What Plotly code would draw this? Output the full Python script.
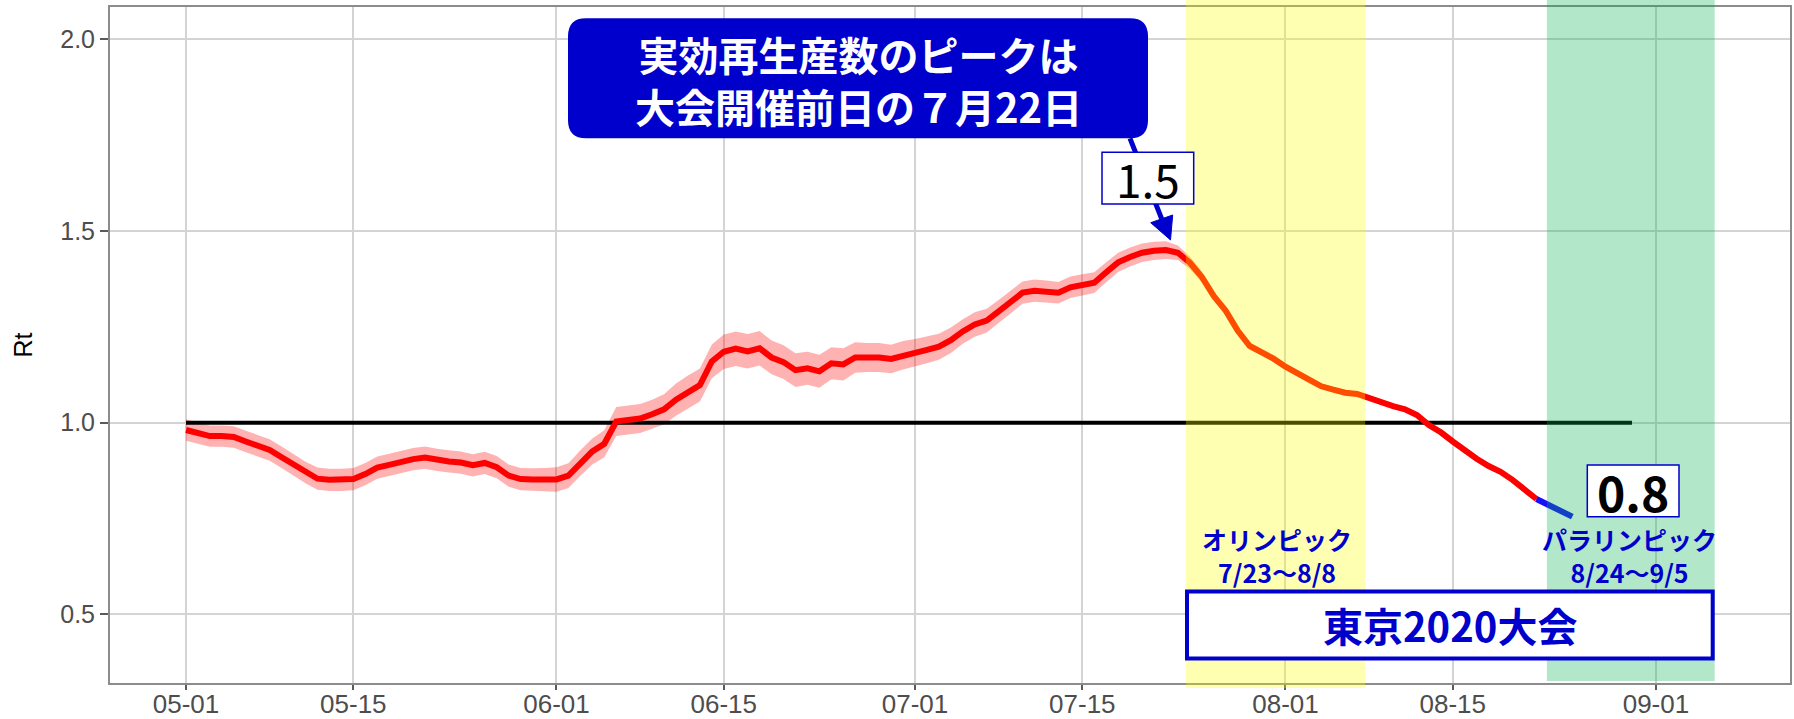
import pandas as pd
import plotly.graph_objects as go

# ---------------- data ----------------
dates = pd.date_range("2021-05-01", "2021-08-25", freq="D")

rt = [0.981, 0.972, 0.965, 0.965, 0.963, 0.951, 0.940, 0.929, 0.910, 0.890,
      0.870, 0.854, 0.851, 0.851, 0.853, 0.866, 0.883, 0.890, 0.898, 0.905,
      0.909, 0.903, 0.899, 0.896, 0.889, 0.895, 0.884, 0.862, 0.853, 0.852,
      0.852, 0.852, 0.862, 0.895, 0.925, 0.945, 1.003, 1.007, 1.011, 1.022,
      1.035, 1.060, 1.080, 1.098, 1.160, 1.185, 1.193, 1.186, 1.194, 1.170,
      1.158, 1.137, 1.142, 1.134, 1.155, 1.152, 1.170, 1.170, 1.170, 1.166,
      1.176, 1.182, 1.190, 1.198, 1.215, 1.238, 1.256, 1.266, 1.290, 1.315,
      1.339, 1.344, 1.342, 1.339, 1.353, 1.359, 1.365, 1.392, 1.418, 1.432,
      1.443, 1.448, 1.450, 1.443, 1.417, 1.380, 1.330, 1.292, 1.240, 1.200,
      1.185, 1.167, 1.146, 1.128, 1.110, 1.095, 1.086, 1.078, 1.075, 1.063,
      1.052, 1.043, 1.035, 1.020, 0.994, 0.975, 0.951, 0.928, 0.906, 0.887,
      0.872, 0.851, 0.824, 0.801, 0.787, 0.770, 0.755]

ci_half = [0.028, 0.028, 0.028, 0.028, 0.028, 0.028, 0.028, 0.028, 0.028, 0.028,
           0.028, 0.029, 0.029, 0.029, 0.029, 0.029, 0.029, 0.029, 0.029, 0.029,
           0.029, 0.029, 0.029, 0.029, 0.029, 0.029, 0.029, 0.029, 0.029, 0.029,
           0.030, 0.032, 0.032, 0.033, 0.034, 0.035, 0.038, 0.038, 0.038, 0.038,
           0.039, 0.042, 0.043, 0.043, 0.044, 0.045, 0.045, 0.045, 0.045, 0.044,
           0.044, 0.044, 0.043, 0.043, 0.042, 0.042, 0.040, 0.038, 0.038, 0.037,
           0.037, 0.036, 0.035, 0.034, 0.033, 0.032, 0.032, 0.031, 0.030, 0.030,
           0.029, 0.029, 0.029, 0.028, 0.028, 0.028, 0.027, 0.026, 0.025, 0.025,
           0.024, 0.024, 0.023, 0.019, 0.016, 0.014, 0.013, 0.011, 0.010, 0.010,
           0.009, 0.009, 0.008, 0.008, 0.008, 0.007, 0.007, 0.007, 0.006, 0.006,
           0.005, 0.005, 0.005, 0.005, 0.004, 0.004, 0.004, 0.004, 0.004, 0.004,
           0.004, 0.004, 0.004, 0.004, 0.004, 0.004, 0.004]

red_end = 114          # red segment: first 114 days (to 08-22), blue afterwards
threshold = 1.0
threshold_span = ["2021-05-01", "2021-08-30"]

olympics = ("2021-07-23 16:00", "2021-08-07 16:00")
paralympics = ("2021-08-22 21:00", "2021-09-05 22:00")

x_tickvals = ["2021-05-01", "2021-05-15", "2021-06-01", "2021-06-15", "2021-07-01",
              "2021-07-15", "2021-08-01", "2021-08-15", "2021-09-01"]
x_ticktext = ["05-01", "05-15", "06-01", "06-15", "07-01", "07-15", "08-01", "08-15", "09-01"]
y_tickvals = [0.5, 1.0, 1.5, 2.0]
y_ticktext = ["0.5", "1.0", "1.5", "2.0"]

x_range = ["2021-04-24 15:20", "2021-09-12 05:15"]
y_range = [0.3214, 2.0837]

BLUE = "#0000CC"
CJK = "Noto Sans CJK JP"

# ---------------- figure ----------------
W, H = 1794, 719
L, R, T, B = 110, 1790, 7, 683


def px(x):
    return (x - L) / (R - L)


def py(y):
    return (B - y) / (B - T)


lo = [v - h for v, h in zip(rt, ci_half)]
hi = [v + h for v, h in zip(rt, ci_half)]

fig = go.Figure()
fig.add_trace(go.Scatter(x=dates, y=hi, mode="lines", line=dict(width=0),
                         hoverinfo="skip"))
fig.add_trace(go.Scatter(x=dates, y=lo, mode="lines", line=dict(width=0),
                         fill="tonexty", fillcolor="rgba(255,0,0,0.3)", hoverinfo="skip"))
fig.add_trace(go.Scatter(x=threshold_span, y=[threshold, threshold], mode="lines",
                         line=dict(color="black", width=4)))
fig.add_trace(go.Scatter(x=dates[:red_end], y=rt[:red_end], mode="lines",
                         line=dict(color="#FF0000", width=6)))
fig.add_trace(go.Scatter(x=dates[red_end - 1:], y=rt[red_end - 1:], mode="lines",
                         line=dict(color="#1710FB", width=6)))

shapes = []
# event periods (translucent overlays)
shapes.append(dict(type="rect", xref="x", yref="paper", x0=olympics[0], x1=olympics[1],
                   y0=py(688), y1=py(0), fillcolor="#FFFF00", opacity=0.3,
                   line=dict(width=0), layer="above"))
shapes.append(dict(type="rect", xref="x", yref="paper", x0=paralympics[0], x1=paralympics[1],
                   y0=py(681), y1=py(0), fillcolor="#00B050", opacity=0.3,
                   line=dict(width=0), layer="above"))

# rounded callout box
cx0, cx1, cy0, cy1, rr = 568, 1148, 18.3, 138.3, 18


def P(x, y):
    return f"{px(x):.5f},{py(y):.5f}"


path = (f"M {P(cx0 + rr, cy0)} L {P(cx1 - rr, cy0)} Q {P(cx1, cy0)} {P(cx1, cy0 + rr)} "
        f"L {P(cx1, cy1 - rr)} Q {P(cx1, cy1)} {P(cx1 - rr, cy1)} "
        f"L {P(cx0 + rr, cy1)} Q {P(cx0, cy1)} {P(cx0, cy1 - rr)} "
        f"L {P(cx0, cy0 + rr)} Q {P(cx0, cy0)} {P(cx0 + rr, cy0)} Z")
shapes.append(dict(type="path", xref="paper", yref="paper", path=path,
                   fillcolor=BLUE, line=dict(width=0), layer="above"))

# arrow from callout to the peak
shapes.append(dict(type="line", xref="paper", yref="paper",
                   x0=px(1130), y0=py(138.3), x1=px(1161.7), y1=py(218.9),
                   line=dict(color=BLUE, width=5), layer="above"))
shapes.append(dict(type="path", xref="paper", yref="paper",
                   path=f"M {P(1150.7, 222.7)} L {P(1172.7, 215.0)} L {P(1170.5, 240.0)} Z",
                   fillcolor=BLUE, line=dict(color=BLUE, width=1), layer="above"))

# value boxes
shapes.append(dict(type="rect", xref="paper", yref="paper",
                   x0=px(1102), x1=px(1193.7), y0=py(204), y1=py(152.3),
                   fillcolor="white", line=dict(color=BLUE, width=1.5), layer="above"))
shapes.append(dict(type="rect", xref="paper", yref="paper",
                   x0=px(1587.3), x1=px(1679), y0=py(516.7), y1=py(465),
                   fillcolor="white", line=dict(color=BLUE, width=1.5), layer="above"))
shapes.append(dict(type="rect", xref="paper", yref="paper",
                   x0=px(1187), x1=px(1712.7), y0=py(658.5), y1=py(591.4),
                   fillcolor="white", line=dict(color=BLUE, width=4), layer="above"))

annotations = [
    dict(xref="paper", yref="paper", x=px(858), y=py(80.5), xanchor="center", yanchor="middle",
         text="実効再生産数のピークは<br>大会開催前日の７月22日", showarrow=False, align="center",
         font=dict(family=CJK, size=40, color="white", weight="bold")),
    dict(xref="paper", yref="paper", x=px(1148), y=py(178.2), xanchor="center", yanchor="middle",
         text="1.5", showarrow=False,
         font=dict(family=CJK, size=46, color="black")),
    dict(xref="paper", yref="paper", x=px(1633), y=py(491), xanchor="center", yanchor="middle",
         text="0.8", showarrow=False,
         font=dict(family=CJK, size=48, color="black", weight="bold")),
    dict(xref="paper", yref="paper", x=px(1277), y=py(555.5), xanchor="center", yanchor="middle",
         text="オリンピック<br>7/23〜8/8", showarrow=False, align="center",
         font=dict(family=CJK, size=25, color=BLUE, weight="bold")),
    dict(xref="paper", yref="paper", x=px(1629), y=py(555.5), xanchor="center", yanchor="middle",
         text="パラリンピック<br>8/24〜9/5", showarrow=False, align="center",
         font=dict(family=CJK, size=25, color=BLUE, weight="bold")),
    dict(xref="paper", yref="paper", x=px(1450), y=py(625), xanchor="center", yanchor="middle",
         text="東京2020大会", showarrow=False,
         font=dict(family=CJK, size=40, color=BLUE, weight="bold")),
]

fig.update_layout(
    width=W, height=H,
    margin=dict(l=L, r=W - R, t=T, b=H - B, autoexpand=False),
    paper_bgcolor="white", plot_bgcolor="white",
    showlegend=False,
    shapes=shapes, annotations=annotations,
    xaxis=dict(type="date", range=x_range, tickvals=x_tickvals, ticktext=x_ticktext,
               showgrid=True, gridcolor="#D4D4D4", gridwidth=1.5, zeroline=False,
               showline=True, linecolor="#8C8C8C", linewidth=2, mirror=True,
               ticks="outside", ticklen=5, tickwidth=2, tickcolor="#5A5A5A",
               ticklabelstandoff=-8,
               tickfont=dict(family="Liberation Sans", size=26, color="#4D4D4D")),
    yaxis=dict(range=y_range, tickvals=y_tickvals, ticktext=y_ticktext,
               showgrid=True, gridcolor="#D4D4D4", gridwidth=1.5, zeroline=False,
               showline=True, linecolor="#8C8C8C", linewidth=2, mirror=True,
               ticks="outside", ticklen=8, tickwidth=2, tickcolor="#5A5A5A",
               tickfont=dict(family="Liberation Sans", size=25, color="#4D4D4D"),
               title=dict(text="Rt", standoff=20,
                          font=dict(family="Liberation Sans", size=25, color="black"))),
)

fig.write_html("out.html", config={"displayModeBar": False},
               post_script="document.body.style.margin='0';document.body.style.overflow='hidden';")
